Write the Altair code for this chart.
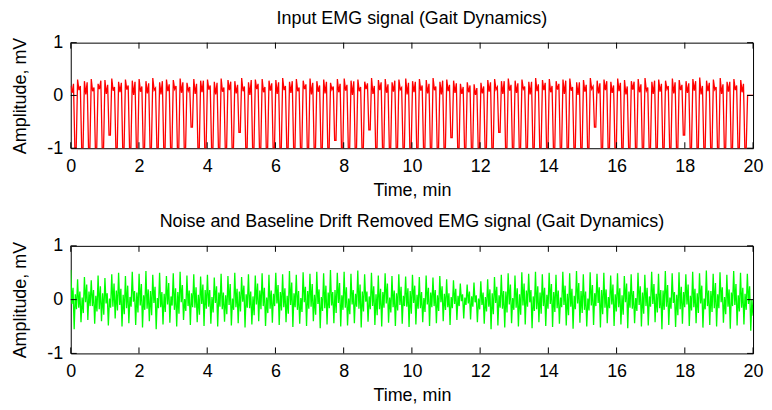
import altair as alt
import numpy as np
import pandas as pd

# ---------------- data ----------------
X_TICKS = [0, 2, 4, 6, 8, 10, 12, 14, 16, 18, 20]
Y_TICKS = [-1, 0, 1]
T_MAX = 20.0

# Input EMG: per gait cycle -> first plateau, notch, second plateau, dip
red_top1 = [
    0.18, 0.30, 0.27, 0.31, 0.22, 0.29, 0.32, 0.26, 0.30, 0.28,
    0.31, 0.27, 0.33, 0.25, 0.30, 0.29, 0.32, 0.24, 0.31, 0.28,
    0.30, 0.26, 0.32, 0.29, 0.27, 0.33, 0.25, 0.30, 0.31, 0.28,
    0.29, 0.33, 0.26, 0.31, 0.28, 0.32, 0.27, 0.30, 0.24, 0.31,
    0.32, 0.28, 0.30, 0.26, 0.33, 0.29, 0.31, 0.25, 0.30, 0.32,
    0.27, 0.31, 0.29, 0.33, 0.26, 0.30, 0.28, 0.22, 0.25, 0.21,
    0.24, 0.29, 0.31, 0.27, 0.32, 0.28, 0.30, 0.26, 0.33, 0.29,
    0.31, 0.27, 0.30, 0.32, 0.25, 0.29, 0.33, 0.28, 0.30, 0.26,
    0.32, 0.29, 0.27, 0.31, 0.33, 0.26, 0.30, 0.28, 0.32, 0.29,
    0.27, 0.31, 0.34, 0.28, 0.30, 0.33, 0.26, 0.31, 0.29, 0.00,
]
red_notch = [
    0.05, 0.10, 0.02, 0.08, 0.12, 0.03, 0.09, 0.06, 0.11, 0.01,
    0.07, 0.04, 0.10, 0.02, 0.08, 0.12, 0.05, 0.09, 0.03, 0.06,
    0.11, 0.02, 0.07, 0.10, 0.04, 0.08, 0.01, 0.12, 0.06, 0.09,
    0.03, 0.10, 0.05, 0.08, 0.12, 0.02, 0.07, 0.04, 0.11, 0.06,
    0.09, 0.01, 0.08, 0.12, 0.03, 0.10, 0.05, 0.07, 0.11, 0.02,
    0.06, 0.09, 0.04, 0.10, 0.02, 0.08, 0.05, 0.03, 0.06, 0.01,
    0.04, 0.07, 0.11, 0.03, 0.09, 0.05, 0.12, 0.02, 0.08, 0.10,
    0.06, 0.11, 0.03, 0.09, 0.01, 0.07, 0.12, 0.04, 0.10, 0.05,
    0.08, 0.02, 0.11, 0.06, 0.09, 0.03, 0.07, 0.12, 0.04, 0.10,
    0.05, 0.09, 0.02, 0.08, 0.11, 0.03, 0.07, 0.10, 0.06, 0.00,
]
red_top2 = [
    0.22, 0.18, 0.25, 0.15, 0.28, 0.20, 0.16, 0.24, 0.19, 0.26,
    0.17, 0.23, 0.14, 0.27, 0.21, 0.18, 0.25, 0.16, 0.22, 0.28,
    0.19, 0.24, 0.15, 0.26, 0.20, 0.17, 0.29, 0.22, 0.16, 0.23,
    0.25, 0.18, 0.27, 0.15, 0.21, 0.24, 0.19, 0.26, 0.17, 0.22,
    0.20, 0.27, 0.16, 0.23, 0.18, 0.25, 0.21, 0.28, 0.15, 0.24,
    0.26, 0.19, 0.22, 0.17, 0.28, 0.20, 0.23, 0.16, 0.19, 0.14,
    0.17, 0.25, 0.16, 0.27, 0.20, 0.23, 0.17, 0.26, 0.21, 0.24,
    0.18, 0.22, 0.28, 0.16, 0.25, 0.20, 0.17, 0.23, 0.27, 0.19,
    0.24, 0.17, 0.26, 0.21, 0.15, 0.28, 0.22, 0.18, 0.25, 0.20,
    0.23, 0.27, 0.18, 0.24, 0.16, 0.21, 0.26, 0.19, 0.22, 0.00,
]
red_low = [
    -1.0, -1.0, -1.0, -1.0, -1.0, -0.75, -1.0, -1.0, -1.0, -1.0,
    -1.0, -1.0, -1.0, -1.0, -1.0, -1.0, -1.0, -0.60, -1.0, -1.0,
    -1.0, -1.0, -1.0, -1.0, -0.70, -1.0, -1.0, -1.0, -1.0, -1.0,
    -1.0, -1.0, -1.0, -1.0, -1.0, -1.0, -1.0, -1.0, -0.85, -1.0,
    -1.0, -1.0, -1.0, -0.65, -1.0, -1.0, -1.0, -1.0, -1.0, -1.0,
    -1.0, -1.0, -1.0, -1.0, -1.0, -0.80, -1.0, -1.0, -1.0, -1.0,
    -1.0, -1.0, -0.70, -1.0, -1.0, -1.0, -1.0, -1.0, -1.0, -1.0,
    -1.0, -1.0, -1.0, -1.0, -1.0, -1.0, -0.60, -1.0, -1.0, -1.0,
    -1.0, -1.0, -1.0, -1.0, -1.0, -1.0, -1.0, -1.0, -1.0, -0.75,
    -1.0, -1.0, -1.0, -1.0, -1.0, -1.0, -1.0, -1.0, -1.0, 0.00,
]

# Filtered EMG: per gait cycle -> peak, fall, rebound, trough, rise, dip
green_hi = [
    0.55, 0.38, 0.42, 0.36, 0.45, 0.40, 0.47, 0.50, 0.44, 0.52,
    0.48, 0.53, 0.46, 0.50, 0.44, 0.49, 0.52, 0.45, 0.47, 0.43,
    0.46, 0.41, 0.48, 0.44, 0.50, 0.42, 0.47, 0.45, 0.49, 0.46,
    0.50, 0.47, 0.53, 0.46, 0.51, 0.48, 0.52, 0.49, 0.55, 0.50,
    0.52, 0.48, 0.54, 0.47, 0.50, 0.45, 0.49, 0.44, 0.47, 0.43,
    0.46, 0.42, 0.45, 0.41, 0.44, 0.38, 0.36, 0.30, 0.28, 0.32,
    0.34, 0.38, 0.42, 0.46, 0.49, 0.45, 0.51, 0.48, 0.52, 0.47,
    0.50, 0.46, 0.52, 0.49, 0.53, 0.47, 0.51, 0.48, 0.50, 0.45,
    0.49, 0.44, 0.47, 0.50, 0.46, 0.52, 0.48, 0.53, 0.49, 0.51,
    0.47, 0.52, 0.49, 0.54, 0.48, 0.51, 0.46, 0.53, 0.50, 0.48,
]
green_fall = [
    -0.08, -0.15, -0.05, -0.12, -0.18, -0.07, -0.13, -0.10, -0.16, -0.04,
    -0.11, -0.17, -0.06, -0.14, -0.09, -0.19, -0.05, -0.12, -0.15, -0.08,
    -0.13, -0.06, -0.18, -0.10, -0.14, -0.04, -0.16, -0.09, -0.12, -0.17,
    -0.07, -0.14, -0.10, -0.19, -0.05, -0.13, -0.08, -0.16, -0.11, -0.06,
    -0.15, -0.09, -0.17, -0.04, -0.12, -0.18, -0.07, -0.14, -0.10, -0.13,
    -0.06, -0.16, -0.09, -0.12, -0.05, -0.14, -0.08, -0.03, -0.07, -0.05,
    -0.10, -0.13, -0.06, -0.17, -0.09, -0.15, -0.11, -0.05, -0.18, -0.12,
    -0.08, -0.16, -0.10, -0.13, -0.07, -0.19, -0.11, -0.06, -0.15, -0.09,
    -0.14, -0.05, -0.17, -0.10, -0.12, -0.08, -0.16, -0.13, -0.06, -0.18,
    -0.09, -0.14, -0.07, -0.12, -0.16, -0.05, -0.13, -0.10, -0.15, -0.08,
]
green_rebound = [
    0.22, 0.15, 0.28, 0.18, 0.25, 0.12, 0.30, 0.20, 0.26, 0.16,
    0.29, 0.19, 0.24, 0.14, 0.31, 0.21, 0.27, 0.17, 0.23, 0.28,
    0.18, 0.25, 0.13, 0.29, 0.20, 0.26, 0.15, 0.30, 0.22, 0.17,
    0.27, 0.21, 0.32, 0.16, 0.24, 0.29, 0.19, 0.26, 0.14, 0.31,
    0.23, 0.18, 0.28, 0.15, 0.25, 0.20, 0.30, 0.17, 0.24, 0.21,
    0.26, 0.14, 0.22, 0.18, 0.25, 0.12, 0.20, 0.10, 0.15, 0.08,
    0.13, 0.19, 0.24, 0.16, 0.28, 0.21, 0.30, 0.18, 0.25, 0.22,
    0.29, 0.17, 0.26, 0.20, 0.31, 0.15, 0.27, 0.23, 0.19, 0.28,
    0.21, 0.30, 0.16, 0.25, 0.22, 0.29, 0.18, 0.27, 0.14, 0.24,
    0.28, 0.20, 0.26, 0.17, 0.31, 0.23, 0.19, 0.29, 0.22, 0.25,
]
green_lo = [
    -0.55, -0.42, -0.38, -0.45, -0.40, -0.48, -0.35, -0.50, -0.44, -0.47,
    -0.52, -0.40, -0.55, -0.46, -0.43, -0.50, -0.38, -0.47, -0.42, -0.49,
    -0.45, -0.50, -0.41, -0.48, -0.44, -0.52, -0.46, -0.40, -0.49, -0.43,
    -0.47, -0.42, -0.51, -0.45, -0.49, -0.40, -0.53, -0.46, -0.44, -0.50,
    -0.48, -0.44, -0.52, -0.41, -0.47, -0.50, -0.43, -0.49, -0.45, -0.51,
    -0.46, -0.42, -0.49, -0.44, -0.40, -0.47, -0.38, -0.35, -0.37, -0.42,
    -0.45, -0.55, -0.48, -0.52, -0.44, -0.50, -0.46, -0.53, -0.42, -0.49,
    -0.51, -0.45, -0.48, -0.54, -0.43, -0.50, -0.47, -0.52, -0.44, -0.49,
    -0.46, -0.53, -0.44, -0.50, -0.48, -0.42, -0.55, -0.47, -0.51, -0.45,
    -0.49, -0.44, -0.52, -0.47, -0.50, -0.43, -0.54, -0.48, -0.46, -0.58,
]
green_rise = [
    0.10, 0.04, 0.15, 0.07, 0.12, 0.02, 0.17, 0.09, 0.05, 0.13,
    0.08, 0.16, 0.03, 0.11, 0.06, 0.14, 0.01, 0.12, 0.09, 0.18,
    0.05, 0.13, 0.08, 0.02, 0.15, 0.10, 0.06, 0.17, 0.04, 0.11,
    0.14, 0.07, 0.12, 0.03, 0.16, 0.09, 0.05, 0.13, 0.18, 0.08,
    0.02, 0.11, 0.15, 0.06, 0.10, 0.14, 0.04, 0.12, 0.07, 0.16,
    0.09, 0.03, 0.13, 0.08, 0.11, 0.05, 0.07, 0.04, 0.06, 0.02,
    0.05, 0.12, 0.08, 0.15, 0.03, 0.10, 0.17, 0.06, 0.13, 0.09,
    0.14, 0.04, 0.11, 0.07, 0.16, 0.02, 0.12, 0.18, 0.05, 0.10,
    0.08, 0.15, 0.03, 0.13, 0.06, 0.11, 0.17, 0.04, 0.09, 0.14,
    0.07, 0.12, 0.02, 0.16, 0.10, 0.05, 0.13, 0.08, 0.11, 0.00,
]
green_dip = [
    -0.18, -0.25, -0.12, -0.22, -0.28, -0.15, -0.20, -0.27, -0.13, -0.24,
    -0.19, -0.29, -0.16, -0.23, -0.11, -0.26, -0.21, -0.14, -0.28, -0.17,
    -0.24, -0.13, -0.27, -0.19, -0.22, -0.15, -0.29, -0.18, -0.25, -0.12,
    -0.20, -0.26, -0.14, -0.23, -0.17, -0.28, -0.21, -0.16, -0.25, -0.19,
    -0.27, -0.13, -0.22, -0.18, -0.29, -0.15, -0.24, -0.20, -0.12, -0.26,
    -0.17, -0.23, -0.14, -0.21, -0.19, -0.16, -0.12, -0.10, -0.13, -0.18,
    -0.22, -0.27, -0.15, -0.24, -0.19, -0.28, -0.13, -0.21, -0.26, -0.17,
    -0.23, -0.14, -0.29, -0.18, -0.25, -0.20, -0.12, -0.27, -0.16, -0.22,
    -0.28, -0.15, -0.21, -0.26, -0.13, -0.24, -0.19, -0.17, -0.29, -0.14,
    -0.20, -0.25, -0.18, -0.23, -0.16, -0.27, -0.12, -0.22, -0.19, -0.30,
]


def build_frame(cols):
    vals = np.column_stack(cols).ravel()
    t = np.linspace(0.0, T_MAX, len(vals))
    return pd.DataFrame({"t": t, "v": vals})


red_df = build_frame([red_top1, red_notch, red_top2, red_low, red_low])
green_df = build_frame([green_hi, green_fall, green_rebound, green_lo,
                        green_rise, green_dip])

W = 685
FONT = "Liberation Sans"
TICK_LEN = 6
LABEL_EXPR = "'' + datum.value"


def panel(df, color, title, h):
    xscale = alt.Scale(domain=[0, T_MAX], nice=False, zero=False)
    yscale = alt.Scale(domain=[-1, 1], nice=False)
    xaxis = alt.Axis(values=X_TICKS, title="Time, min", ticks=False,
                     domain=False, grid=False, labelFlush=False,
                     labelOverlap=False, labelExpr=LABEL_EXPR,
                     labelPadding=9, titlePadding=6)
    yaxis = alt.Axis(values=Y_TICKS, title="Amplitude, mV", ticks=False,
                     domain=False, grid=False, labelPadding=8,
                     labelOverlap=False, labelExpr=LABEL_EXPR,
                     titlePadding=17)
    line = alt.Chart(df).mark_line(color=color, strokeWidth=1.3, clip=True).encode(
        x=alt.X("t:Q", scale=xscale, axis=xaxis),
        y=alt.Y("v:Q", scale=yscale, axis=yaxis),
    )
    xt = pd.DataFrame({"t": X_TICKS})
    yt = pd.DataFrame({"v": Y_TICKS})
    xenc = alt.X("t:Q", scale=xscale, axis=xaxis)
    yenc = alt.Y("v:Q", scale=yscale, axis=yaxis)
    bottom = alt.Chart(xt).mark_rule(color="black", strokeWidth=1).encode(
        x=xenc, y=alt.value(h), y2=alt.value(h - TICK_LEN))
    top = alt.Chart(xt).mark_rule(color="black", strokeWidth=1).encode(
        x=xenc, y=alt.value(0), y2=alt.value(TICK_LEN))
    left = alt.Chart(yt).mark_rule(color="black", strokeWidth=1).encode(
        y=yenc, x=alt.value(0), x2=alt.value(TICK_LEN))
    right = alt.Chart(yt).mark_rule(color="black", strokeWidth=1).encode(
        y=yenc, x=alt.value(W - TICK_LEN), x2=alt.value(W))
    return alt.layer(line, bottom, top, left, right).properties(
        width=W, height=h,
        title=alt.TitleParams(title, fontSize=18, font=FONT, fontWeight="normal",
                              color="black", anchor="middle", offset=6),
    )


p1 = panel(red_df, "#FF0000", "Input EMG signal (Gait Dynamics)", 106)
p2 = panel(green_df, "#00FF00",
           "Noise and Baseline Drift Removed EMG signal (Gait Dynamics)", 108)

chart = alt.vconcat(p1, p2, spacing=12).properties(
    padding={"left": 3, "top": 0, "right": 0, "bottom": 0},
    background="white",
).configure_view(
    stroke="black", strokeWidth=1
).configure_axis(
    labelFont=FONT, titleFont=FONT, labelFontSize=18, titleFontSize=18,
    labelColor="black", titleColor="black", titleFontWeight="normal",
)

chart.save("out.html", embed_options={"renderer": "svg", "actions": False})
